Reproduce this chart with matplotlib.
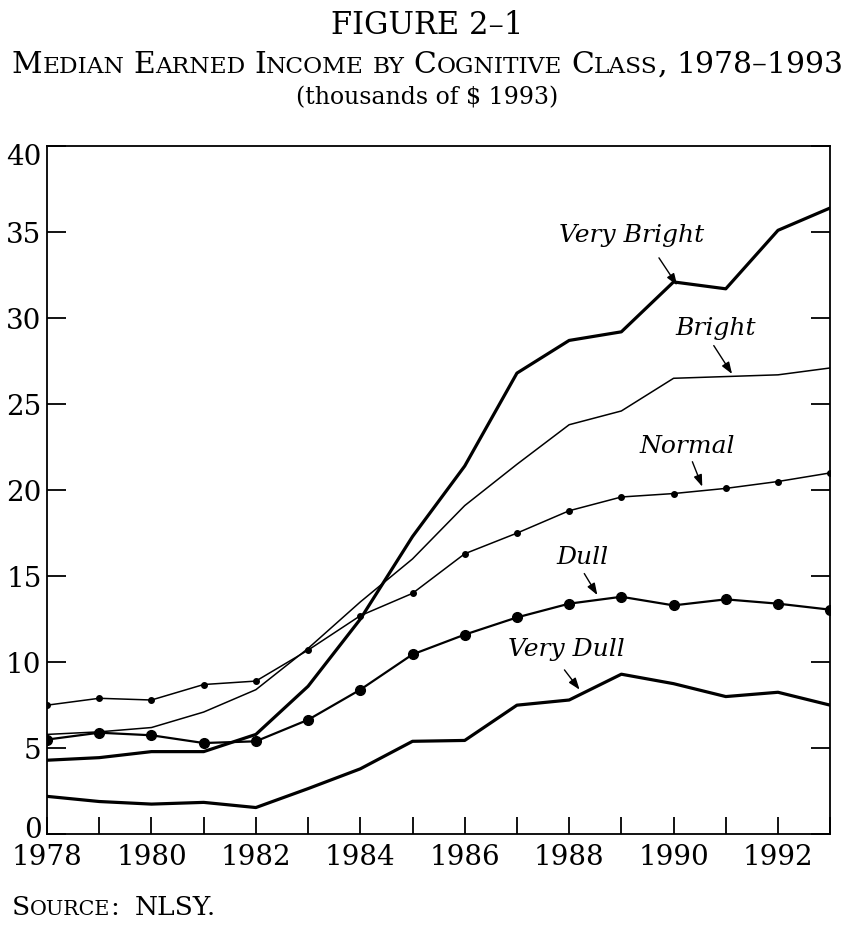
import re
import numpy as np
import matplotlib
matplotlib.use("Agg")
import matplotlib.pyplot as plt
import matplotlib.transforms as mtransforms

years = np.arange(1978, 1994)

very_bright = [4.3, 4.45, 4.8, 4.8, 5.8, 8.6, 12.5, 17.3, 21.4, 26.8, 28.7, 29.2, 32.1, 31.7, 35.1, 36.4]
bright = [5.8, 5.95, 6.2, 7.1, 8.4, 10.8, 13.5, 16.0, 19.1, 21.5, 23.8, 24.6, 26.5, 26.6, 26.7, 27.1]
normal = [7.5, 7.9, 7.8, 8.7, 8.9, 10.7, 12.7, 14.0, 16.3, 17.5, 18.8, 19.6, 19.8, 20.1, 20.5, 21.0]
dull = [5.5, 5.9, 5.75, 5.3, 5.4, 6.65, 8.4, 10.45, 11.6, 12.6, 13.4, 13.8, 13.3, 13.65, 13.4, 13.05]
very_dull = [2.2, 1.9, 1.75, 1.85, 1.55, 2.65, 3.8, 5.4, 5.45, 7.5, 7.8, 9.3, 8.75, 8.0, 8.25, 7.5]

class_names = ["Very Bright", "Bright", "Normal", "Dull", "Very Dull"]

plt.rcParams["font.family"] = "DejaVu Serif"

fig = plt.figure(figsize=(8.55, 9.3), dpi=100)
ax = fig.add_axes([0.055, 0.103, 0.916, 0.740])

# line styles per class
ax.plot(years, very_bright, color="black", lw=2.3)
ax.plot(years, bright, color="black", lw=1.1)
ax.plot(years, normal, color="black", lw=1.1, marker="o", ms=4)
ax.plot(years, dull, color="black", lw=1.6, marker="o", ms=7)
ax.plot(years, very_dull, color="black", lw=2.3)

ax.set_xlim(1978, 1993)
ax.set_ylim(0, 40)
ax.set_xticks(years, minor=True)
ax.set_xticks(np.arange(1978, 1993, 2))
ax.set_yticks(np.arange(0, 41, 5))
ax.tick_params(axis="both", which="both", direction="in", labelsize=20,
               width=1.3, colors="black")
ax.tick_params(axis="y", length=14, right=True, pad=4)
ax.tick_params(axis="x", which="both", length=12, pad=7)
for sp in ax.spines.values():
    sp.set_linewidth(1.3)

# nudge the end labels of the y axis like the printed figure
fig.canvas.draw()
ylabels = ax.get_yticklabels()
ylabels[0].set_transform(ylabels[0].get_transform() +
                         mtransforms.ScaledTranslation(0, 5 / 72, fig.dpi_scale_trans))
ylabels[-1].set_transform(ylabels[-1].get_transform() +
                          mtransforms.ScaledTranslation(0, -6 / 72, fig.dpi_scale_trans))

# class labels with arrows: (label x, label y, arrow start, arrow end)
label_spots = {
    "Very Bright": (1989.2, 34.8, (1989.72, 33.5), (1990.07, 31.9)),
    "Bright": (1990.8, 29.4, (1990.77, 28.4), (1991.12, 26.75)),
    "Normal": (1990.26, 22.55, (1990.36, 21.65), (1990.55, 20.2)),
    "Dull": (1988.26, 16.1, (1988.29, 15.15), (1988.54, 13.9)),
    "Very Dull": (1987.94, 10.75, (1987.91, 9.55), (1988.2, 8.4)),
}
for name in class_names:
    tx, ty, a0, a1 = label_spots[name]
    ax.text(tx, ty, name, style="italic", fontsize=18, ha="center", va="center")
    ax.annotate("", xy=a1, xytext=a0,
                arrowprops=dict(arrowstyle="-|>,head_length=0.5,head_width=0.18",
                                color="black", lw=1.0,
                                mutation_scale=14, shrinkA=0, shrinkB=0))


def small_caps(fig, x, y, s, size, ha="center"):
    """Draw s in fake small caps, x/y in figure fraction."""
    renderer = fig.canvas.get_renderer()
    W = fig.get_size_inches()[0] * fig.dpi
    pieces = []
    words = s.split(" ")
    for wi, word in enumerate(words):
        for run in re.findall(r"[a-z]+|[^a-z]+", word):
            fs = size * 0.78 if run.islower() else size
            pieces.append([run.upper(), fs])
        if wi < len(words) - 1:
            pieces.append([None, size])
    texts = []
    total = 0.0
    for txt, fs in pieces:
        if txt is None:
            w = 0.3 * fs * fig.dpi / 72
            texts.append((None, w))
        else:
            t = fig.text(0, y, txt, fontsize=fs, va="baseline")
            w = t.get_window_extent(renderer).width
            texts.append((t, w))
        total += w
    if ha == "center":
        cur = x * W - total / 2
    else:
        cur = x * W
    for t, w in texts:
        if t is not None:
            t.set_x(cur / W)
        cur += w


fig.text(0.5, 1 - 34 / 930, "FIGURE 2\u20131", ha="center", va="baseline", fontsize=22)
small_caps(fig, 0.5, 1 - 73 / 930, "Median Earned Income by Cognitive Class, 1978\u20131993", 21.5)
fig.text(0.5, 1 - 104 / 930, "(thousands of $ 1993)", ha="center", va="baseline", fontsize=17)
small_caps(fig, 0.014, 1 - 915 / 930, "Source:  NLSY.", 19, ha="left")

fig.savefig("out.png", dpi=100)
